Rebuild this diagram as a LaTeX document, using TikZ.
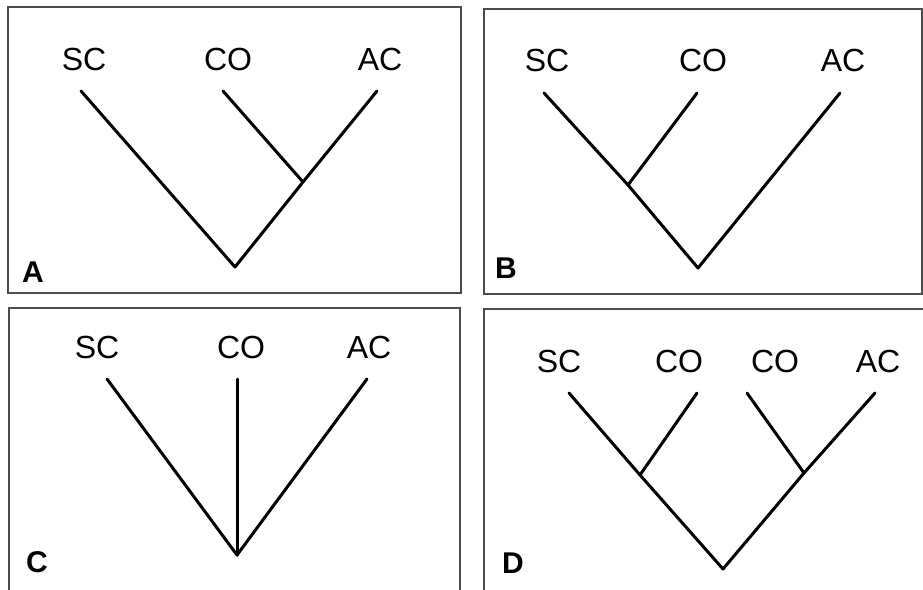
\documentclass[tikz,border=0pt]{standalone}
\usepackage{fontspec}
\setmainfont{Liberation Sans}
\begin{document}
\begin{tikzpicture}[x=1pt,y=-1pt,
  frame/.style={draw=black!70,line width=1.3pt},
  branch/.style={line width=3pt,line cap=round,line join=round},
  taxon/.style={anchor=base,inner sep=0pt,font=\fontsize{32}{36}\selectfont},
  tag/.style={anchor=base,inner sep=0pt,font=\fontsize{30}{34}\selectfont\bfseries}]
\useasboundingbox (0,0) rectangle (923,589);
% frames
\draw[frame] (8,7) rectangle (461,293);
\draw[frame] (484,9) rectangle (922,294);
\draw[frame] (9,308) rectangle (460,600);
\draw[frame] (484,309) rectangle (930,600);
% ---------- A ----------
\node[taxon] (aSC) at (84,70) {SC};
\node[taxon] (aCO) at (228,70) {CO};
\node[taxon] (aAC) at (380,70) {AC};
\node[tag] (aL) at (33,282) {A};
\coordinate (aSCt) at (81,91);
\coordinate (aCOt) at (223,91);
\coordinate (aACt) at (377,91);
\coordinate (aJ) at (303,182);
\coordinate (aR) at (235,267);
\draw[branch] (aSCt) -- (aR) -- (aJ) -- (aACt);
\draw[branch] (aCOt) -- (aJ);
% ---------- B ----------
\node[taxon] (bSC) at (547,71) {SC};
\node[taxon] (bCO) at (703,71) {CO};
\node[taxon] (bAC) at (843,71) {AC};
\node[tag] (bL) at (506,278) {B};
\coordinate (bSCt) at (544,93);
\coordinate (bCOt) at (697,93);
\coordinate (bACt) at (840,93);
\coordinate (bJ) at (628,185);
\coordinate (bR) at (698,268);
\draw[branch] (bSCt) -- (bJ) -- (bR) -- (bACt);
\draw[branch] (bCOt) -- (bJ);
% ---------- C ----------
\node[taxon] (cSC) at (97,358) {SC};
\node[taxon] (cCO) at (241,358) {CO};
\node[taxon] (cAC) at (369,358) {AC};
\node[tag] (cL) at (37,572) {C};
\coordinate (cSCt) at (107,379);
\coordinate (cCOt) at (237,379);
\coordinate (cACt) at (367,379);
\coordinate (cR) at (237,555);
\draw[branch] (cSCt) -- (cR) -- (cACt);
\draw[branch] (cCOt) -- (cR);
% ---------- D ----------
\node[taxon] (dSC) at (559,372) {SC};
\node[taxon] (dCO1) at (679,372) {CO};
\node[taxon] (dCO2) at (775,372) {CO};
\node[taxon] (dAC) at (878,372) {AC};
\node[tag] (dL) at (513,573) {D};
\coordinate (dSCt) at (569,393);
\coordinate (dCO1t) at (697,393);
\coordinate (dCO2t) at (747,393);
\coordinate (dACt) at (875,393);
\coordinate (dJL) at (640,475);
\coordinate (dJR) at (804,473);
\coordinate (dR) at (723,569);
\draw[branch] (dSCt) -- (dJL) -- (dR) -- (dJR) -- (dACt);
\draw[branch] (dCO1t) -- (dJL);
\draw[branch] (dCO2t) -- (dJR);
\end{tikzpicture}
\end{document}
